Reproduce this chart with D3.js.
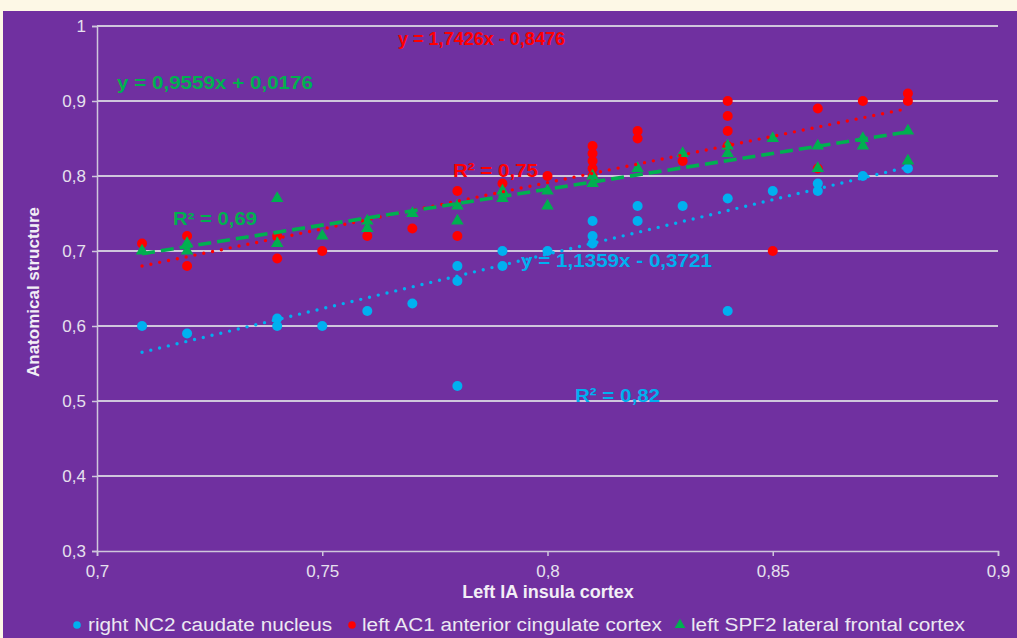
<!DOCTYPE html>
<html>
<head>
<meta charset="utf-8">
<script src="https://cdn.jsdelivr.net/npm/d3@7"></script>
<style>
  html, body { margin: 0; padding: 0; background: #fdf8e6; }
  svg { display: block; }
  text { font-family: Arial, "Liberation Sans", sans-serif; }
</style>
</head>
<body>
<svg id="chart" width="1017" height="638"></svg>
<script>
// ---------- data ----------
const xTicks = [0.7, 0.75, 0.8, 0.85, 0.9];
const yTicks = [0.3, 0.4, 0.5, 0.6, 0.7, 0.8, 0.9, 1];
const seriesNames = ["right NC2 caudate nucleus", "left AC1 anterior cingulate cortex", "left SPF2 lateral frontal cortex"];

const blueX = [0.71,0.72,0.74,0.74,0.75,0.76,0.77,0.78,0.78,0.78,0.79,0.79,0.80,0.81,0.81,0.81,0.82,0.82,0.83,0.84,0.84,0.85,0.86,0.86,0.87,0.88];
const blueY = [0.60,0.59,0.61,0.60,0.60,0.62,0.63,0.68,0.66,0.52,0.70,0.68,0.70,0.74,0.72,0.71,0.76,0.74,0.76,0.77,0.62,0.78,0.79,0.78,0.80,0.81];

const redX = [0.71,0.72,0.72,0.74,0.74,0.75,0.76,0.77,0.78,0.78,0.79,0.80,0.81,0.81,0.81,0.81,0.81,0.82,0.82,0.83,0.84,0.84,0.84,0.84,0.85,0.86,0.86,0.87,0.88,0.88];
const redY = [0.71,0.72,0.68,0.72,0.69,0.70,0.72,0.73,0.78,0.72,0.79,0.80,0.84,0.83,0.82,0.81,0.80,0.86,0.85,0.82,0.90,0.88,0.86,0.84,0.70,0.89,0.81,0.90,0.91,0.90];

const greenX = [0.71,0.72,0.72,0.74,0.74,0.75,0.76,0.76,0.77,0.78,0.78,0.79,0.79,0.80,0.80,0.81,0.81,0.82,0.83,0.84,0.84,0.85,0.86,0.86,0.87,0.87,0.88,0.88];
const greenY = [0.70,0.71,0.70,0.77,0.71,0.72,0.74,0.73,0.75,0.76,0.74,0.78,0.77,0.78,0.76,0.80,0.79,0.81,0.83,0.84,0.83,0.85,0.84,0.81,0.85,0.84,0.86,0.82];

// trendline end points (as drawn)
const trendBlueX = [0.71, 0.88], trendBlueY = [0.565, 0.812];
const trendRedX = [0.71, 0.88], trendRedY = [0.680, 0.890];
const trendGreenX = [0.71, 0.88], trendGreenY = [0.6963, 0.8588];

const eqBlue = "y = 1,1359x - 0,3721", r2Blue = "R² = 0,82";
const eqRed = "y = 1,7426x - 0,8476", r2Red = "R² = 0,75";
const eqGreen = "y = 0,9559x + 0,0176", r2Green = "R² = 0,69";

const xTitle = "Left IA insula cortex";
const yTitle = "Anatomical structure";

// ---------- styles ----------
const C_BLUE = "#00b0f0", C_RED = "#ff0000", C_GREEN = "#00b050";
const PURPLE = "#7030a0";
const GRID = "#cfc6dc";
const LABEL = "#e6e0ee";

const svg = d3.select("#chart");
svg.append("rect").attr("x", 3).attr("y", 11).attr("width", 1014).attr("height", 627).attr("fill", PURPLE);

const x = d3.scaleLinear().domain([0.7, 0.9]).range([97, 998]);
const y = d3.scaleLinear().domain([0.3, 1]).range([551, 26]);

// gridlines
svg.append("g").selectAll("line").data(yTicks.filter(v => v > 0.3)).join("line")
  .attr("x1", x(0.7)).attr("x2", x(0.9))
  .attr("y1", d => y(d)).attr("y2", d => y(d))
  .attr("stroke", GRID).attr("stroke-width", 2);

// axes
const fmt = d => String(d).replace(".", ",");
const yAxis = svg.append("g").attr("transform", `translate(${x(0.7)},0)`)
  .call(d3.axisLeft(y).tickValues(yTicks).tickFormat(fmt).tickSize(5).tickPadding(6));
const xAxis = svg.append("g").attr("transform", `translate(0,${y(0.3)})`)
  .call(d3.axisBottom(x).tickValues(xTicks).tickFormat(fmt).tickSize(5).tickPadding(9));
[xAxis, yAxis].forEach(g => {
  g.selectAll("path, line").attr("stroke", GRID).attr("stroke-width", 1.5);
  g.selectAll("text").attr("fill", LABEL).style("font-size", "17px")
    .style("font-family", "Arial, 'Liberation Sans', sans-serif");
});

// markers
const gBlue = svg.append("g");
gBlue.selectAll("circle").data(d3.range(blueX.length)).join("circle")
  .attr("cx", i => x(blueX[i])).attr("cy", i => y(blueY[i])).attr("r", 5).attr("fill", C_BLUE);
const gRed = svg.append("g");
gRed.selectAll("circle").data(d3.range(redX.length)).join("circle")
  .attr("cx", i => x(redX[i])).attr("cy", i => y(redY[i])).attr("r", 5).attr("fill", C_RED);
const tri = d3.symbol().type(d3.symbolTriangle).size(68);
const gGreen = svg.append("g");
gGreen.selectAll("path").data(d3.range(greenX.length)).join("path")
  .attr("transform", i => `translate(${x(greenX[i])},${y(greenY[i])})`)
  .attr("d", tri).attr("fill", C_GREEN);

// trendlines
const line = d3.line().x(d => x(d[0])).y(d => y(d[1]));
function trend(xs, ys, color, dash, w, cap) {
  svg.append("path").datum(xs.map((v, i) => [v, ys[i]]))
    .attr("d", line).attr("fill", "none").attr("stroke", color)
    .attr("stroke-width", w).attr("stroke-dasharray", dash).attr("stroke-linecap", cap);
}
trend(trendBlueX, trendBlueY, C_BLUE, "0,9", 3.4, "round");
trend(trendRedX, trendRedY, C_RED, "0,9", 3.4, "round");
trend(trendGreenX, trendGreenY, C_GREEN, "13,6", 3.6, "butt");

// annotations
function ann(txt, px, py, color, size, len) {
  svg.append("text").attr("x", px).attr("y", py).text(txt)
    .attr("fill", color).style("font-size", size + "px").style("font-weight", "bold")
    .attr("textLength", len).attr("lengthAdjust", "spacingAndGlyphs");
}
ann(eqRed, 398, 45, C_RED, 19, 167);
ann(eqGreen, 117, 89, C_GREEN, 17.5, 196);
ann(r2Green, 173, 225, C_GREEN, 18, 84);
ann(r2Red, 453, 177, C_RED, 19, 85);
ann(eqBlue, 521, 267, C_BLUE, 19, 191);
ann(r2Blue, 575, 402, C_BLUE, 19, 85);

// axis titles
svg.append("text").attr("x", 548).attr("y", 598).attr("text-anchor", "middle")
  .text(xTitle).attr("fill", "#f2eef6").style("font-size", "18px").style("font-weight", "bold");
svg.append("text").attr("transform", "translate(39,292) rotate(-90)").attr("text-anchor", "middle")
  .text(yTitle).attr("fill", "#f2eef6").style("font-size", "17px").style("font-weight", "bold");

// legend
const legItems = [
  { name: seriesNames[0], color: C_BLUE, shape: "circle", mx: 77, tx: 88, len: 244 },
  { name: seriesNames[1], color: C_RED, shape: "circle", mx: 352, tx: 362, len: 300 },
  { name: seriesNames[2], color: C_GREEN, shape: "triangle", mx: 680, tx: 691, len: 274 }
];
const leg = svg.append("g");
legItems.forEach(it => {
  if (it.shape === "circle") {
    leg.append("circle").attr("cx", it.mx).attr("cy", 625).attr("r", 3.8).attr("fill", it.color);
  } else {
    leg.append("path").attr("transform", `translate(${it.mx},625)`)
      .attr("d", d3.symbol().type(d3.symbolTriangle).size(50)).attr("fill", it.color);
  }
  leg.append("text").attr("x", it.tx).attr("y", 631).text(it.name)
    .attr("fill", "#ece8f2").style("font-size", "18px")
    .attr("textLength", it.len).attr("lengthAdjust", "spacingAndGlyphs");
});
</script>
</body>
</html>
